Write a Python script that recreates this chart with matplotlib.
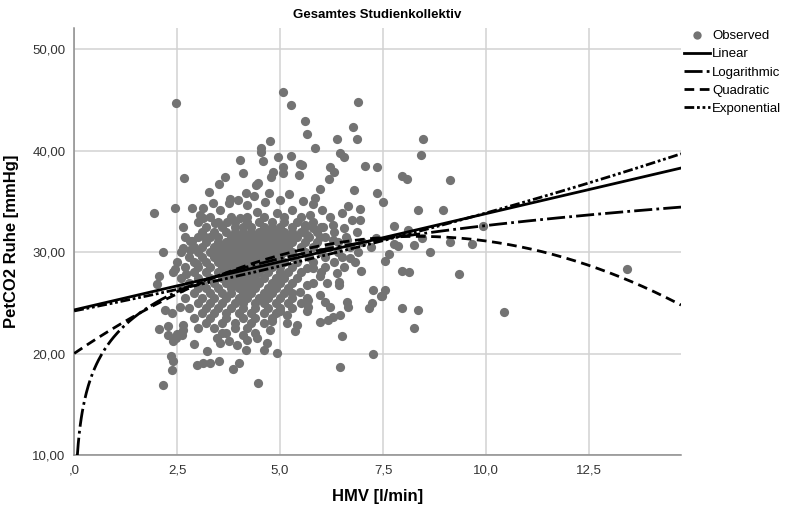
import numpy as np
import matplotlib
matplotlib.use("Agg")
import matplotlib.pyplot as plt
from matplotlib.lines import Line2D

plt.rcParams['font.family'] = ['Liberation Sans', 'DejaVu Sans']
plt.rcParams['lines.scale_dashes'] = False

# Observed cases (HMV in l/min, PetCO2 in mmHg), grouped by area of the cloud
upper_points = [
    (2.48, 44.68), (5.08, 45.82), (5.27, 44.5), (5.61, 42.9), (5.65, 41.6), (4.76, 40.97),
    (4.54, 40.25), (4.55, 39.9), (4.96, 39.4), (5.27, 39.5), (4.03, 39.06), (4.58, 39.0),
    (5.49, 38.67), (5.06, 38.43), (4.09, 37.84), (4.84, 37.88), (5.08, 37.8), (4.77, 37.45),
    (5.47, 37.6), (2.68, 37.29), (3.67, 37.39), (3.51, 36.7), (4.47, 36.86), (4.42, 36.63),
    (3.27, 35.97), (4.17, 35.87), (4.38, 35.55), (4.72, 35.81), (5.22, 35.74), (5.56, 35.08),
    (3.79, 35.25), (3.97, 35.15), (3.37, 34.83), (2.87, 34.39), (2.45, 34.39), (1.94, 33.87),
    (3.14, 34.33), (3.06, 33.67), (3.54, 34.17), (3.75, 34.83), (4.19, 34.66), (4.64, 34.98),
    (5.0, 35.15), (4.43, 34.0), (4.92, 33.84), (5.28, 34.17), (2.65, 32.52), (3.18, 31.54),
    (2.87, 31.14), (3.14, 33.35), (3.41, 32.86), (3.71, 33.0), (4.03, 33.35),
]

right_points = [
    (6.90, 44.78), (6.76, 42.3), (6.86, 41.13), (6.38, 41.13), (5.84, 40.3), (8.48, 41.13),
    (8.41, 39.56), (6.46, 39.81), (6.56, 39.42), (7.06, 38.53), (7.36, 38.4), (6.21, 38.43),
    (6.32, 37.88), (6.19, 37.19), (7.97, 37.52), (8.07, 37.22), (9.13, 37.15), (5.53, 38.6),
    (5.97, 36.21), (6.80, 36.14), (7.35, 35.87), (7.49, 34.98), (5.85, 35.38), (5.81, 34.73),
    (8.34, 34.17), (8.95, 34.14), (6.66, 34.59), (6.94, 34.27), (6.01, 34.17), (5.73, 33.67),
    (6.21, 33.51), (6.50, 33.84), (6.74, 33.18), (6.94, 33.18), (7.77, 32.59), (8.11, 32.2),
    (8.44, 31.38), (9.13, 31.04), (7.33, 31.38), (6.86, 32.03), (6.54, 32.36), (6.29, 32.69),
    (6.05, 32.52), (5.81, 32.36), (5.61, 32.69), (5.65, 31.7), (5.97, 31.54), (6.29, 31.21),
    (6.62, 31.21), (9.93, 32.6), (9.65, 30.79), (7.77, 30.79), (7.87, 30.65), (8.24, 30.72),
    (8.64, 30.0), (7.65, 29.80), (7.55, 29.14), (7.95, 28.19), (8.14, 28.03), (9.34, 27.83),
    (13.41, 28.33), (7.55, 26.22), (7.47, 25.7), (7.95, 24.48), (8.35, 24.32), (10.44, 24.09),
    (8.25, 22.57), (6.96, 28.16), (7.26, 26.28), (7.44, 25.63), (7.22, 24.98), (7.16, 24.48),
    (6.50, 21.78), (7.25, 19.95), (6.46, 18.67), (6.62, 25.13), (6.66, 24.64), (6.46, 23.82),
    (6.29, 23.65), (5.97, 23.1), (6.17, 23.33), (6.09, 25.13), (6.21, 24.64), (5.69, 25.3),
    (5.69, 24.64), (5.97, 25.79), (6.42, 27.1), (6.42, 26.78), (6.54, 28.58), (6.82, 29.07),
    (6.70, 29.4), (5.97, 27.6), (6.13, 26.95), (5.65, 26.78), (5.49, 26.12), (6.38, 27.93),
    (5.65, 28.42), (5.81, 28.42),
]

lower_points = [
    (2.17, 30.0), (2.07, 27.6), (2.02, 26.85), (2.07, 22.4), (2.29, 21.85), (2.35, 19.8),
    (2.41, 19.22), (2.37, 18.4), (2.17, 16.86), (2.98, 18.9), (3.14, 19.06), (3.30, 19.06),
    (3.52, 19.22), (3.22, 20.21), (2.90, 20.94), (2.65, 22.35), (2.48, 21.53), (2.61, 21.85),
    (4.01, 19.06), (3.87, 18.5), (4.46, 17.09), (4.17, 20.38), (3.95, 20.87), (3.75, 21.2),
    (3.54, 21.03), (4.62, 20.38), (4.68, 21.03), (4.92, 20.05), (4.76, 22.35), (4.80, 23.17),
    (5.16, 23.0), (5.36, 22.18), (5.40, 22.84), (4.43, 21.53), (4.11, 21.85), (4.19, 21.36),
    (3.46, 21.53), (3.58, 22.02), (2.41, 21.2), (5.65, 25.47), (5.65, 24.15), (5.16, 23.82),
    (5.0, 24.15), (2.82, 31.11), (2.65, 30.39), (2.82, 30.23), (2.21, 24.3), (2.37, 24.0),
    (2.57, 24.6), (2.29, 22.7), (2.65, 22.8), (2.49, 21.9), (2.45, 28.3), (2.73, 27.8),
    (2.98, 28.8),
]

# dense centre of the cloud, read row by row (PetCO2 level -> HMV values)
core_levels = [33.5, 33.0, 32.5, 32.0, 31.5, 31.0, 30.5, 30.0, 29.5, 29.0, 28.5, 28.0,
               27.5, 27.0, 26.5, 26.0, 25.5, 25.0, 24.5, 24.0, 23.5, 23.0, 22.5, 22.0]
core_hmv = [
    [3.3, 3.8, 4.2, 4.6, 5.1, 5.5],
    [3.0, 3.5, 3.9, 4.2, 4.5, 4.8, 5.1, 5.4, 5.8],
    [3.2, 3.6, 3.9, 4.1, 4.3, 4.6, 4.8, 5.0, 5.3, 5.6, 6.0],
    [3.1, 3.4, 3.7, 3.9, 4.1, 4.3, 4.5, 4.7, 4.9, 5.1, 5.3, 5.5, 5.9, 6.3],
    [2.7, 3.0, 3.3, 3.5, 3.8, 4.0, 4.2, 4.4, 4.6, 4.8, 5.0, 5.2, 5.4, 5.7, 6.1, 6.6],
    [3.2, 3.5, 3.7, 3.9, 4.1, 4.3, 4.5, 4.7, 4.9, 5.1, 5.3, 5.6, 5.9, 6.4, 7.0],
    [2.9, 3.1, 3.4, 3.6, 3.8, 4.0, 4.2, 4.4, 4.6, 4.8, 5.0, 5.2, 5.5, 5.8, 6.2, 6.7, 7.2],
    [2.6, 3.0, 3.3, 3.5, 3.7, 3.9, 4.1, 4.3, 4.5, 4.7, 4.9, 5.1, 5.3, 5.6, 6.0, 6.4, 6.9],
    [2.8, 3.1, 3.4, 3.6, 3.8, 4.0, 4.2, 4.4, 4.6, 4.8, 5.0, 5.3, 5.7, 6.1, 6.5],
    [2.5, 2.9, 3.2, 3.5, 3.7, 3.9, 4.1, 4.3, 4.5, 4.7, 4.9, 5.1, 5.4, 5.8, 6.3],
    [2.7, 3.0, 3.3, 3.6, 3.8, 4.0, 4.2, 4.4, 4.6, 4.8, 5.0, 5.3, 6.1],
    [2.4, 2.9, 3.2, 3.5, 3.7, 3.9, 4.1, 4.3, 4.5, 4.7, 5.0, 5.2, 5.5, 6.0],
    [2.6, 3.0, 3.3, 3.6, 3.8, 4.0, 4.2, 4.4, 4.6, 4.9, 5.1, 5.4],
    [2.8, 3.1, 3.4, 3.7, 3.9, 4.1, 4.3, 4.5, 4.8, 5.0, 5.3, 5.8],
    [2.6, 3.0, 3.2, 3.5, 3.8, 4.0, 4.2, 4.4, 4.7, 4.9, 5.2],
    [2.9, 3.3, 3.6, 3.8, 4.1, 4.3, 4.6, 4.8, 5.1, 5.3],
    [2.7, 3.1, 3.4, 3.7, 4.0, 4.2, 4.5, 4.7, 5.0, 5.3],
    [3.0, 3.3, 3.6, 3.9, 4.1, 4.4, 4.6, 4.9, 5.2, 5.5],
    [2.8, 3.2, 3.5, 3.8, 4.1, 4.4, 4.7, 5.0, 5.3],
    [3.1, 3.4, 3.7, 4.0, 4.3, 4.6, 4.9],
    [2.9, 3.3, 3.7, 4.1, 4.4, 4.8],
    [3.2, 3.6, 3.9, 4.3, 4.6],
    [3.0, 3.4, 3.9, 4.2],
    [3.7, 4.4],
]

# fitted models (curve estimation)
lin_coef = (24.3, 0.95)             # b0 + b1*x
log_coef = (21.8, 4.7)              # b0 + b1*ln(x)
quad_coef = (20.0, 2.77, -0.166)    # b0 + b1*x + b2*x^2
exp_coef = (24.2, 0.0336)           # b0 * exp(b1*x)

x_ticks = [0, 2.5, 5.0, 7.5, 10.0, 12.5]
x_tick_labels = [",0", "2,5", "5,0", "7,5", "10,0", "12,5"]
y_ticks = [10, 20, 30, 40, 50]
y_tick_labels = ["10,00", "20,00", "30,00", "40,00", "50,00"]

pts = upper_points + right_points + lower_points
hmv = [p[0] for p in pts]
petco2 = [p[1] for p in pts]
for level, row in zip(core_levels, core_hmv):
    hmv += row
    petco2 += [level] * len(row)

fig = plt.figure(figsize=(7.86, 5.13), dpi=100)
ax = fig.add_axes([74 / 786, 1 - 455 / 513, (681 - 74) / 786, (455 - 28) / 513])

x_max = 14.73
ax.set_xlim(0, x_max)
ax.set_ylim(10, 52.1)

dot_color = '#737373'
ax.scatter(hmv, petco2, s=44, color=dot_color, linewidths=0, zorder=3)

xs = np.linspace(0.005, x_max, 600)
lw = 2.0
ax.plot(xs, lin_coef[0] + lin_coef[1] * xs, color='black', lw=lw, zorder=4)
ax.plot(xs, log_coef[0] + log_coef[1] * np.log(xs), color='black', lw=lw,
        dashes=(13, 3, 2, 3), zorder=4)
ax.plot(xs, quad_coef[0] + quad_coef[1] * xs + quad_coef[2] * xs ** 2, color='black', lw=lw,
        dashes=(7, 4), zorder=4)
ax.plot(xs, exp_coef[0] * np.exp(exp_coef[1] * xs), color='black', lw=lw,
        dashes=(7, 2, 2, 2, 2, 2), zorder=4)

ax.set_xticks(x_ticks)
ax.set_xticklabels(x_tick_labels)
ax.set_yticks(y_ticks)
ax.set_yticklabels(y_tick_labels)
ax.tick_params(length=0, labelsize=9.5, labelcolor='#333333')
ax.tick_params(axis='y', pad=6)
ax.tick_params(axis='x', pad=7)

ax.grid(True, color='#d2d2d2', lw=1.1)
ax.set_axisbelow(True)
for side in ['top', 'right']:
    ax.spines[side].set_visible(False)
for side in ['left', 'bottom']:
    ax.spines[side].set_color('#8c8c8c')
    ax.spines[side].set_linewidth(1.1)

ax.set_title("Gesamtes Studienkollektiv", fontsize=9.5, fontweight='bold', pad=7)
ax.set_xlabel("HMV [l/min]", fontsize=12, fontweight='bold', labelpad=9)
ax.set_ylabel("PetCO2 Ruhe [mmHg]", fontsize=12, fontweight='bold', labelpad=10)

handles = [
    Line2D([], [], ls='none', marker='o', ms=6, color=dot_color, mec='none'),
    Line2D([], [], color='black', lw=lw),
    Line2D([], [], color='black', lw=lw, dashes=(13, 3, 2, 3)),
    Line2D([], [], color='black', lw=lw, dashes=(7, 4)),
    Line2D([], [], color='black', lw=lw, dashes=(7, 2, 2, 2, 2, 2)),
]
labels = ["Observed", "Linear", "Logarithmic", "Quadratic", "Exponential"]
fig.legend(handles, labels, loc='upper left', bbox_to_anchor=(684 / 786, 1 - 30 / 513),
           frameon=False, fontsize=9.5, handlelength=2.0, handletextpad=0.15,
           labelspacing=0.45, borderpad=0, borderaxespad=0)

fig.savefig("out.png", dpi=100)
